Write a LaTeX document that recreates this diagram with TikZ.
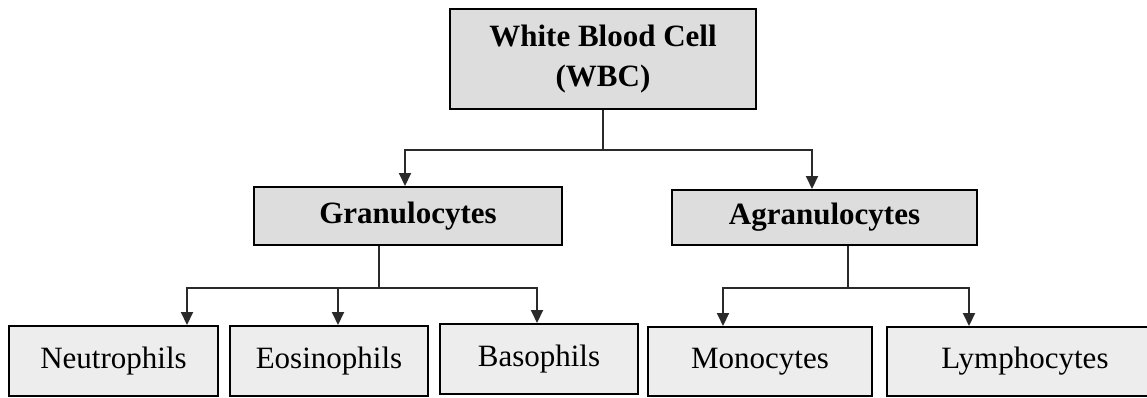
\documentclass[tikz,border=0pt]{standalone}
\usepackage{fontspec}
\setmainfont{Liberation Serif}
\usetikzlibrary{arrows.meta}
\definecolor{boxA}{HTML}{DDDDDD}
\definecolor{boxB}{HTML}{EDEDED}
\definecolor{lineC}{HTML}{2A2A2A}
\tikzset{
  topbox/.style={draw=black, line width=2pt, fill=boxA, inner sep=0pt,
    font=\fontsize{31}{40}\selectfont\bfseries, align=center},
  midbox/.style={draw=black, line width=2pt, fill=boxA, inner sep=0pt,
    font=\fontsize{31}{40}\selectfont\bfseries},
  leafbox/.style={draw=black, line width=2pt, fill=boxB, inner sep=0pt,
    font=\fontsize{31}{40}\selectfont},
  conn/.style={draw=lineC, line width=2pt},
  arr/.style={conn, -{Triangle[width=12pt,length=13pt]}},
}
\begin{document}
\begin{tikzpicture}[x=1pt,y=-1pt]
\useasboundingbox (0,0) rectangle (1147,397);
\clip (0,0) rectangle (1147,397);
% nodes
\node[topbox, minimum width=306pt, minimum height=100pt] (wbc) at (603,59) {White Blood Cell\\(WBC)};
\node[midbox, minimum width=308pt, minimum height=58pt] (gran) at (408,216) {Granulocytes};
\node[midbox, minimum width=305pt, minimum height=55pt] (agran) at (824.5,217.5) {Agranulocytes};
\node[leafbox, minimum width=209pt, minimum height=70pt] (neu) at (113.5,361) {Neutrophils};
\node[leafbox, minimum width=198pt, minimum height=70pt] (eos) at (329,361) {Eosinophils};
\node[leafbox, minimum width=198pt, minimum height=70pt] (bas) at (539,359) {Basophils};
\node[leafbox, minimum width=224pt, minimum height=69pt] (mon) at (760,361.5) {Monocytes};
\node[leafbox, minimum width=276pt, minimum height=69pt] (lym) at (1025,361.5) {Lymphocytes};
% bus coordinates
\coordinate (ws) at (603,150);
\coordinate (gx) at (405,150);
\coordinate (ax) at (812,150);
\coordinate (gs) at (379,288);
\coordinate (as) at (848,288);
\coordinate (nx) at (187,288);
\coordinate (ex) at (338,288);
\coordinate (bx) at (537,288);
\coordinate (mx) at (723,288);
\coordinate (lx) at (969,288);
% connectors
\draw[conn] (ws |- wbc.south) -- (ws);
\draw[arr] (ws) -- (gx) -- (gx |- gran.north);
\draw[arr] (ws) -- (ax) -- (ax |- agran.north);
\draw[conn] (gs |- gran.south) -- (gs);
\draw[arr] (gs) -- (nx) -- (nx |- neu.north);
\draw[arr] (gs) -- (ex) -- (ex |- eos.north);
\draw[arr] (gs) -- (bx) -- (bx |- bas.north);
\draw[conn] (as |- agran.south) -- (as);
\draw[arr] (as) -- (mx) -- (mx |- mon.north);
\draw[arr] (as) -- (lx) -- (lx |- lym.north);
\end{tikzpicture}
\end{document}
